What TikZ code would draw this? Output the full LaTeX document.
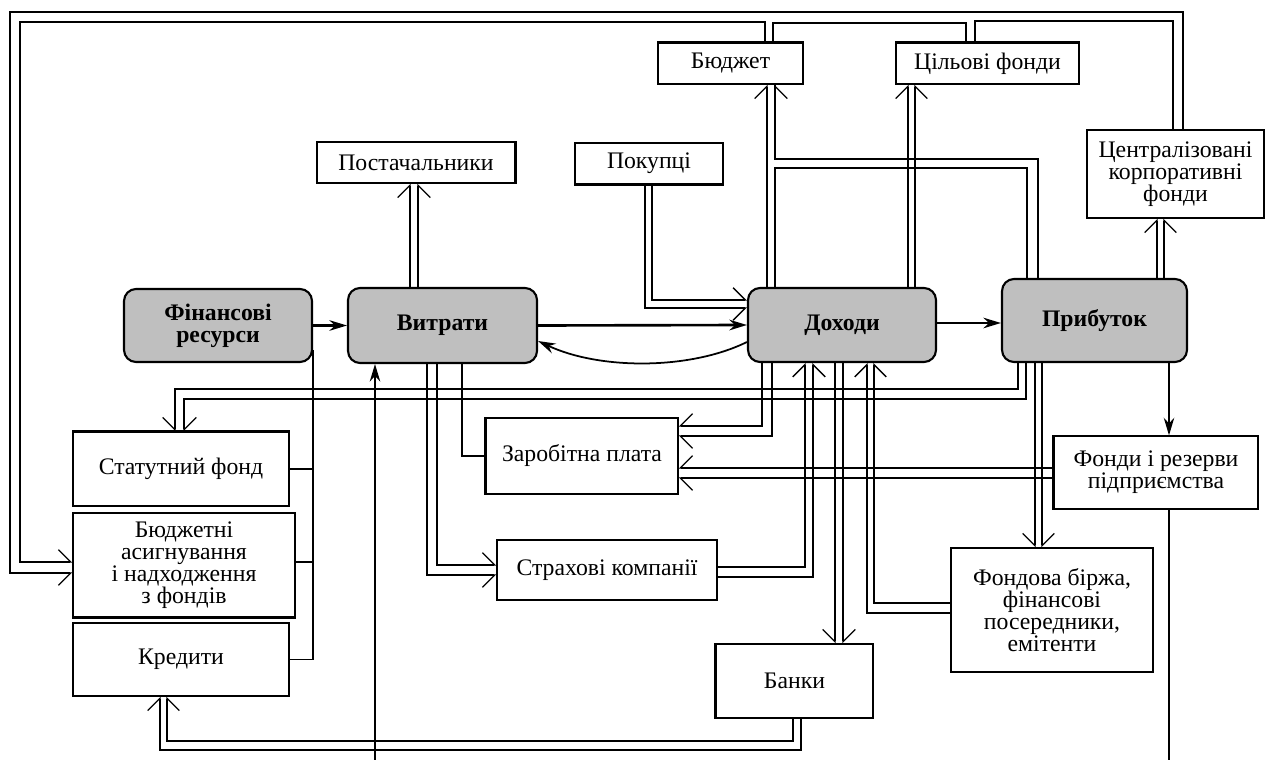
\documentclass[tikz,border=0pt]{standalone}
\usepackage{fontspec}
\setmainfont{Liberation Serif}
\usetikzlibrary{arrows.meta}
\newcommand\diagfont{\fontsize{13.5}{12.5}\selectfont}

\tikzset{
  box/.style={draw, line width=0.8pt, align=center, inner sep=1pt, font=\diagfont},
  core/.style={box, rounded corners=0.24cm, fill=black!25, line width=1.2pt, font=\diagfont\bfseries},
  thinline/.style={line width=0.75pt},
  heavyline/.style={line width=1.5pt},
  lbarb/.style={-{Straight Barb[harpoon,length=7pt,width=14pt,line width=0.75pt]}},
  rbarb/.style={-{Straight Barb[harpoon,swap,length=7pt,width=14pt,line width=0.75pt]}},
  mainarrow/.style={-{Stealth[length=10pt,width=6pt]}},
}

\begin{document}
\begin{tikzpicture}[x=0.02cm, y=-0.02cm]
  \useasboundingbox (0,0) rectangle (1268,760);

  \node[core, minimum width=3.76cm, minimum height=1.46cm] (fin) at (218,325.5) {Фінансові\\ресурси};
  \node[core, minimum width=3.78cm, minimum height=1.5cm] (vytr) at (442.5,325.5) {Витрати};
  \node[core, minimum width=3.76cm, minimum height=1.48cm] (dokh) at (842,325) {Доходи};
  \node[core, minimum width=3.7cm, minimum height=1.66cm] (prib) at (1094.5,320.5) {Прибуток};

  \node[box, minimum width=3.96cm, minimum height=0.82cm] (post) at (416,162.5) {Постачальники};
  \node[box, minimum width=2.96cm, minimum height=0.82cm] (pok) at (649,163.5) {Покупці};
  \node[box, minimum width=2.9cm, minimum height=0.82cm] (budg) at (730.5,63.5) {Бюджет};
  \node[box, minimum width=3.66cm, minimum height=0.82cm] (cil) at (987.5,63.5) {Цільові фонди};
  \node[box, minimum width=3.54cm, minimum height=1.76cm] (centr) at (1175.5,174) {Централізовані\\корпоративні\\фонди};

  \node[box, minimum width=4.32cm, minimum height=1.48cm] (stat) at (181,469) {Статутний фонд};
  \node[box, minimum width=4.44cm, minimum height=2.08cm] (basyg) at (184,565) {Бюджетні\\асигнування\\і надходження\\з фондів};
  \node[box, minimum width=4.32cm, minimum height=1.46cm] (kred) at (181,659.5) {Кредити};

  \node[box, minimum width=3.84cm, minimum height=1.52cm] (zarp) at (582,456) {Заробітна плата};
  \node[box, minimum width=4.4cm, minimum height=1.2cm] (strakh) at (607,570) {Страхові компанії};
  \node[box, minimum width=3.14cm, minimum height=1.48cm] (banky) at (794.5,681) {Банки};
  \node[box, minimum width=4.04cm, minimum height=2.48cm] (fbirzh) at (1052,610) {Фондова біржа,\\фінансові\\посередники,\\емітенти};
  \node[box, minimum width=4.08cm, minimum height=1.46cm] (frez) at (1156,472.5) {Фонди і резерви\\підприємства};

  \draw[heavyline] (budg.north west) -- (budg.north east);
  \draw[heavyline] (cil.north west) -- (cil.north east);
  \draw[heavyline] (pok.south west) -- (pok.south east);
  \draw[heavyline] (post.north east) -- (post.south east);
  \draw[heavyline] (stat.north west) -- (stat.north east);
  \draw[heavyline] (basyg.south west) -- (basyg.south east);
  \draw[heavyline] (zarp.north west) -- (zarp.south west);
  \draw[heavyline] (banky.north west) -- (banky.south west);
  \draw[heavyline] (frez.north west) -- (frez.south west);

  \coordinate (vin) at (375,760);
  \coordinate (fout) at (1169,760);

  \draw[thinline, rbarb] (1183,0 |- centr.north) -- (1183,12) -- (10,12) -- (10,573) -- (10,573 -| basyg.west);
  \draw[thinline, lbarb] (765,0 |- budg.north) -- (765,22) -- (20,22) -- (20,562) -- (20,562 -| basyg.west);
  \draw[heavyline] (773,0 |- budg.north) -- (773,23) -- (966,23) -- (966,0 |- cil.north);
  \draw[heavyline] (975,0 |- cil.north) -- (975,21) -- (1173,21) -- (1173,0 |- centr.north);

  \draw[thinline, lbarb] (767,0 |- dokh.north) -- (767,0 |- budg.south);
  \draw[heavyline] (775,159) -- (775,0 |- budg.south);
  \draw[thinline, rbarb] (1038,0 |- prib.north) -- (1038,159) -- (775,159) -- (775,0 |- budg.south);
  \draw[heavyline] (775,0 |- dokh.north) -- (775,168) -- (1027,168) -- (1027,0 |- prib.north);

  \draw[thinline, lbarb] (908,0 |- dokh.north) -- (908,0 |- cil.south);
  \draw[thinline, rbarb] (915,0 |- dokh.north) -- (915,0 |- cil.south);
  \draw[thinline, lbarb] (1157,0 |- prib.north) -- (1157,0 |- centr.south);
  \draw[thinline, rbarb] (1164,0 |- prib.north) -- (1164,0 |- centr.south);
  \draw[thinline, lbarb] (410,0 |- vytr.north) -- (410,0 |- post.south);
  \draw[thinline, rbarb] (418,0 |- vytr.north) -- (418,0 |- post.south);

  \draw[heavyline, lbarb] (652,0 |- pok.south) -- (652,300) -- (652,300 -| dokh.west);
  \draw[thinline, rbarb] (645,0 |- pok.south) -- (645,308) -- (645,308 -| dokh.west);

  \draw[heavyline, mainarrow] (fin.east) -- (vytr.west);
  \draw[heavyline, mainarrow] (vytr.east) -- (dokh.west);
  \draw[heavyline, mainarrow] (dokh.east |- 0,323) -- (prib.west |- 0,323);
  \draw[line width=1pt, mainarrow] (dokh.west |- 0,342) .. controls (690,370) and (600,370) .. (vytr.east |- 0,341);

  \draw[heavyline] (vin) -- (375,750);
  \draw[thinline, mainarrow] (vin) -- (vin |- vytr.south);
  \draw[heavyline] (462,0 |- vytr.south) |- (zarp.west);
  \draw[thinline, lbarb] (437,0 |- vytr.south) -- (437,565) -- (437,565 -| strakh.west);
  \draw[thinline, rbarb] (427,0 |- vytr.south) -- (427,575) -- (427,575 -| strakh.west);

  \draw[thinline] (kred.east) -| (fin.east |- 0,350);
  \draw[thinline] (stat.east) -- (312,0 |- stat.east);
  \draw[heavyline] (basyg.east |- 0,562) -- (312,562);

  \draw[thinline, rbarb] (1018,0 |- prib.south) -- (1018,389) -- (175,389) -- (175,0 |- stat.north);
  \draw[thinline, lbarb] (1026,0 |- prib.south) -- (1026,399) -- (184,399) -- (184,0 |- stat.north);

  \draw[heavyline, rbarb] (762,0 |- dokh.south) -- (762,426) -- (762,426 -| zarp.east);
  \draw[heavyline, lbarb] (772,0 |- dokh.south) -- (772,436) -- (772,436 -| zarp.east);
  \draw[thinline, rbarb] (frez.west |- 0,468) -- (zarp.east |- 0,468);
  \draw[thinline, lbarb] (frez.west |- 0,478) -- (zarp.east |- 0,478);

  \draw[thinline, lbarb] (strakh.east |- 0,567) -| (805,0 |- dokh.south);
  \draw[thinline, rbarb] (strakh.east |- 0,577) -| (813,0 |- dokh.south);
  \draw[heavyline, rbarb] (835,0 |- dokh.south) -- (835,0 |- banky.north);
  \draw[heavyline, lbarb] (843,0 |- dokh.south) -- (843,0 |- banky.north);
  \draw[thinline, rbarb] (fbirzh.west |- 0,603) -| (874,0 |- dokh.south);
  \draw[thinline, lbarb] (fbirzh.west |- 0,613) -| (867,0 |- dokh.south);

  \draw[thinline, rbarb] (1035,0 |- prib.south) -- (1035,0 |- fbirzh.north);
  \draw[heavyline, lbarb] (1042,0 |- prib.south) -- (1042,0 |- fbirzh.north);
  \draw[thinline, mainarrow] (fout |- prib.south) -- (fout |- frez.north);
  \draw[thinline] (fout |- frez.south) -- (fout);

  \draw[thinline, rbarb] (793,0 |- banky.south) -- (793,741) -- (167,741) -- (167,0 |- kred.south);
  \draw[thinline, lbarb] (801,0 |- banky.south) -- (801,750) -- (160,750) -- (160,0 |- kred.south);
\end{tikzpicture}
\end{document}
